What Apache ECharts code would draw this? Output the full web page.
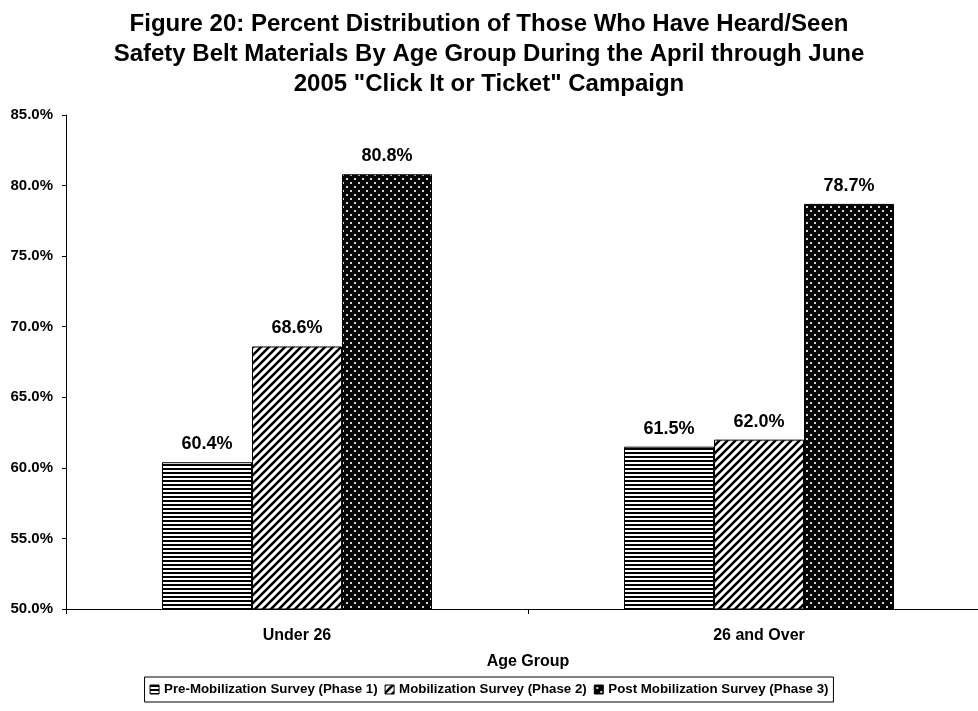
<!DOCTYPE html>
<html>
<head>
    <meta charset="utf-8">
    <title>Figure 20</title>
    <script src="https://cdn.jsdelivr.net/npm/echarts@6.0.0/dist/echarts.min.js"></script>
    <style>
        body { margin: 0; background: #ffffff; }
        #main { width: 978px; height: 711px; }
    </style>
</head>
<body>
    <div id="main"></div>
<script>
// data
const ageGroups = ['Under 26', '26 and Over'];
const seriesNames = [
  'Pre-Mobilization Survey (Phase 1)',
  'Mobilization Survey (Phase 2)',
  'Post Mobilization Survey (Phase 3)'
];
const phase1 = [60.4, 61.5];
const phase2 = [68.6, 62.0];
const phase3 = [80.8, 78.7];
const yTicks = { min: 50, max: 85, step: 5 };

// hatch patterns drawn on small canvases
function makeTile(w, h, draw) {
  const c = document.createElement('canvas');
  c.width = w; c.height = h;
  const ctx = c.getContext('2d');
  draw(ctx, w, h);
  return { image: c, repeat: 'repeat' };
}

const horizPattern = makeTile(4, 4, (ctx, w, h) => {
  ctx.fillStyle = '#fff'; ctx.fillRect(0, 0, w, h);
  ctx.fillStyle = '#000'; ctx.fillRect(0, 0, w, 2);
});

const diagPattern = makeTile(8, 8, (ctx, w, h) => {
  ctx.fillStyle = '#fff'; ctx.fillRect(0, 0, w, h);
  ctx.strokeStyle = '#000'; ctx.lineWidth = 2.6;
  ctx.beginPath();
  ctx.moveTo(-2, h + 2); ctx.lineTo(w + 2, -2);
  ctx.moveTo(-2, 2); ctx.lineTo(2, -2);
  ctx.moveTo(w - 2, h + 2); ctx.lineTo(w + 2, h - 2);
  ctx.stroke();
});

const dotPattern = makeTile(8, 8, (ctx, w, h) => {
  ctx.fillStyle = '#000'; ctx.fillRect(0, 0, w, h);
  ctx.fillStyle = '#d8d8d8';
  ctx.fillRect(2, 2, 2, 2);
  ctx.fillRect(6, 6, 2, 2);
});

const patterns = [horizPattern, diagPattern, dotPattern];
const values = [phase1, phase2, phase3];

const font = 'Liberation Sans, Arial, sans-serif';

const option = {
  backgroundColor: '#fff',
  animation: false,
  textStyle: { fontFamily: font },
  title: {
    text: 'Figure 20: Percent Distribution of Those Who Have Heard/Seen\nSafety Belt Materials By Age Group During the April through June\n2005 "Click It or Ticket" Campaign',
    left: 'center',
    top: 4,
    textStyle: { fontSize: 24, fontWeight: 'bold', color: '#000', lineHeight: 30, fontFamily: font }
  },
  legend: {
    data: seriesNames,
    left: 'center',
    top: 677,
    padding: [6, 5, 6, 5],
    borderColor: '#000',
    borderWidth: 1,
    itemWidth: 9,
    itemHeight: 9,
    itemGap: 7,
    icon: 'rect',
    itemStyle: { borderColor: '#000', borderWidth: 1 },
    textStyle: { fontSize: 13.3, fontWeight: 'bold', color: '#000', fontFamily: font, padding: [0, 0, 0, 0] }
  },
  grid: { left: 66, top: 115, width: 924, bottom: 102, outerBoundsMode: 'none' },
  xAxis: {
    type: 'category',
    data: ageGroups,
    name: 'Age Group',
    nameLocation: 'middle',
    nameGap: 45,
    nameTextStyle: { fontSize: 16, fontWeight: 'bold', color: '#000', fontFamily: font },
    axisLine: { lineStyle: { color: '#000', width: 1 } },
    axisTick: { show: true, alignWithLabel: false, length: 5, lineStyle: { color: '#000' } },
    axisLabel: { fontSize: 16, fontWeight: 'bold', color: '#000', margin: 19, fontFamily: font }
  },
  yAxis: {
    type: 'value',
    min: yTicks.min,
    max: yTicks.max,
    interval: yTicks.step,
    axisLine: { show: true, lineStyle: { color: '#000', width: 1 } },
    axisTick: { show: true, length: 4, lineStyle: { color: '#000' } },
    splitLine: { show: false },
    axisLabel: {
      fontSize: 15, fontWeight: 'bold', color: '#000', margin: 13, fontFamily: font,
      formatter: v => v.toFixed(1) + '%'
    }
  },
  series: seriesNames.map((name, i) => ({
    name: name,
    type: 'bar',
    data: values[i],
    barWidth: 90,
    barGap: '0%',
    itemStyle: { color: patterns[i], borderColor: '#000', borderWidth: 1 },
    label: {
      show: true,
      position: 'top',
      distance: 9,
      fontSize: 18,
      fontWeight: 'bold',
      color: '#000',
      fontFamily: font,
      formatter: p => p.value.toFixed(1) + '%'
    }
  }))
};

const chart = echarts.init(document.getElementById('main'));
chart.setOption(option);
</script>
</body>
</html>
